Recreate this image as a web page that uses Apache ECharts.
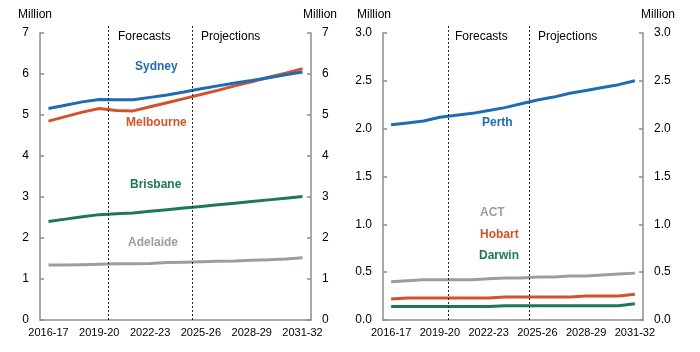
<!DOCTYPE html>
<html>
<head>
<meta charset="utf-8">
<script src="https://cdn.jsdelivr.net/npm/echarts@6/dist/echarts.min.js"></script>
<style>
  html, body { margin: 0; padding: 0; background: #fff; }
  #chart { width: 700px; height: 352px; }
</style>
</head>
<body>
<div id="chart"></div>
<script>
const years = ["2016-17", "2017-18", "2018-19", "2019-20", "2020-21", "2021-22", "2022-23", "2023-24",
  "2024-25", "2025-26", "2026-27", "2027-28", "2028-29", "2029-30", "2030-31", "2031-32"];

// left panel, million
const sydney = [5.16, 5.24, 5.32, 5.38, 5.37, 5.37, 5.43, 5.49, 5.56, 5.64, 5.71, 5.78, 5.84, 5.91, 5.98, 6.05];
const melbourne = [4.85, 4.96, 5.07, 5.16, 5.11, 5.10, 5.20, 5.30, 5.40, 5.50, 5.60, 5.71, 5.81, 5.92, 6.02, 6.13];
const brisbane = [2.40, 2.46, 2.52, 2.57, 2.59, 2.61, 2.65, 2.69, 2.73, 2.77, 2.81, 2.85, 2.89, 2.93, 2.97, 3.01];
const adelaide = [1.34, 1.34, 1.35, 1.36, 1.37, 1.37, 1.38, 1.40, 1.41, 1.42, 1.43, 1.44, 1.46, 1.47, 1.49, 1.52];

// right panel, million
const perth = [2.04, 2.06, 2.08, 2.12, 2.14, 2.16, 2.19, 2.22, 2.26, 2.30, 2.33, 2.37, 2.40, 2.43, 2.46, 2.50];
const act = [0.40, 0.41, 0.42, 0.42, 0.42, 0.42, 0.43, 0.44, 0.44, 0.45, 0.45, 0.46, 0.46, 0.47, 0.48, 0.49];
const hobart = [0.22, 0.23, 0.23, 0.23, 0.23, 0.23, 0.23, 0.24, 0.24, 0.24, 0.24, 0.24, 0.25, 0.25, 0.25, 0.27];
const darwin = [0.14, 0.14, 0.14, 0.14, 0.14, 0.14, 0.14, 0.15, 0.15, 0.15, 0.15, 0.15, 0.15, 0.15, 0.15, 0.17];

// period boundaries (between categories), forecasts from 2020-21, projections from 2025-26
const periodStarts = [3.5, 8.5];

const FONT = "Liberation Sans, Arial, sans-serif";
const AXIS = "#8c8c8c";
const C = { blue: "#1f6cb3", red: "#d2532b", green: "#1c7a52", grey: "#a39b99" };

function catAxis(grid) {
  return {
    type: "category", gridIndex: grid, data: years, boundaryGap: true,
    axisLine: { lineStyle: { color: AXIS, width: 1.5 } },
    axisTick: { inside: true, interval: 2, length: 4, lineStyle: { color: AXIS, width: 1.5 } },
    axisLabel: { interval: 2, margin: 7, color: "#000", fontSize: 11, fontFamily: FONT },
    splitLine: { show: false }
  };
}
function valAxis(grid, pos, max, step, dec) {
  return {
    type: "value", gridIndex: grid, position: pos, min: 0, max: max, interval: step,
    axisLine: { show: true, lineStyle: { color: AXIS, width: 1.5 } },
    axisTick: { show: true, inside: true, length: 4, lineStyle: { color: AXIS, width: 1.5 } },
    axisLabel: { margin: 11, color: "#000", fontSize: 12, fontFamily: FONT,
      formatter: v => v.toFixed(dec) },
    splitLine: { show: false }
  };
}
function line(name, data, color, xi, yi) {
  return { name, type: "line", data, xAxisIndex: xi, yAxisIndex: yi, symbol: "none",
    smooth: false, lineStyle: { color, width: 3 }, itemStyle: { color } };
}
// dashed dividers live in an overlay grid that reaches a little above the plot
function dividers(i) {
  return {
    type: "line", data: [[periodStarts[0], 0]], xAxisIndex: i, yAxisIndex: i, symbol: "none",
    silent: true, clip: false, lineStyle: { width: 0 },
    markLine: {
      symbol: "none", silent: true, label: { show: false },
      lineStyle: { color: "#222", type: [2, 2], width: 1 },
      data: periodStarts.map(x => [{ coord: [x, 0] }, { coord: [x, 1] }])
    }
  };
}
function txt(x, y, s, color, bold) {
  return { type: "text", left: x, top: y,
    style: { text: s, fill: color, font: (bold ? "bold " : "") + "12px " + FONT } };
}

const chart = echarts.init(document.getElementById("chart"), null, { renderer: "canvas" });
chart.setOption({
  animation: false,
  grid: [
    { left: 40, right: 389, top: 33, bottom: 32 },
    { left: 383, right: 57, top: 33, bottom: 32 },
    { left: 40, right: 389, top: 25, bottom: 32 },
    { left: 383, right: 57, top: 25, bottom: 32 }
  ],
  xAxis: [
    catAxis(0), catAxis(1),
    { type: "value", gridIndex: 2, min: -0.5, max: 15.5, show: false },
    { type: "value", gridIndex: 3, min: -0.5, max: 15.5, show: false }
  ],
  yAxis: [
    valAxis(0, "left", 7, 1, 0), valAxis(1, "left", 3, 0.5, 1),
    { type: "value", gridIndex: 2, min: 0, max: 1, show: false },
    { type: "value", gridIndex: 3, min: 0, max: 1, show: false },
    valAxis(0, "right", 7, 1, 0), valAxis(1, "right", 3, 0.5, 1)
  ],
  series: [
    dividers(2),
    dividers(3),
    line("Adelaide", adelaide, C.grey, 0, 0),
    line("Brisbane", brisbane, C.green, 0, 0),
    line("Melbourne", melbourne, C.red, 0, 0),
    line("Sydney", sydney, C.blue, 0, 0),
    line("Darwin", darwin, C.green, 1, 1),
    line("Hobart", hobart, C.red, 1, 1),
    line("ACT", act, C.grey, 1, 1),
    line("Perth", perth, C.blue, 1, 1)
  ],
  graphic: [
    txt(18, 9, "Million", "#000"), txt(303, 9, "Million", "#000"),
    txt(357, 9, "Million", "#000"), txt(641, 9, "Million", "#000"),
    txt(118, 31, "Forecasts", "#000"), txt(201, 31, "Projections", "#000"),
    txt(455, 31, "Forecasts", "#000"), txt(538, 31, "Projections", "#000"),
    txt(135, 61, "Sydney", C.blue, true),
    txt(126, 117, "Melbourne", C.red, true),
    txt(130, 179, "Brisbane", C.green, true),
    txt(128, 237, "Adelaide", C.grey, true),
    txt(482, 117, "Perth", C.blue, true),
    txt(480, 207, "ACT", C.grey, true),
    txt(480, 229, "Hobart", C.red, true),
    txt(479, 250, "Darwin", C.green, true)
  ]
});
</script>
</body>
</html>
